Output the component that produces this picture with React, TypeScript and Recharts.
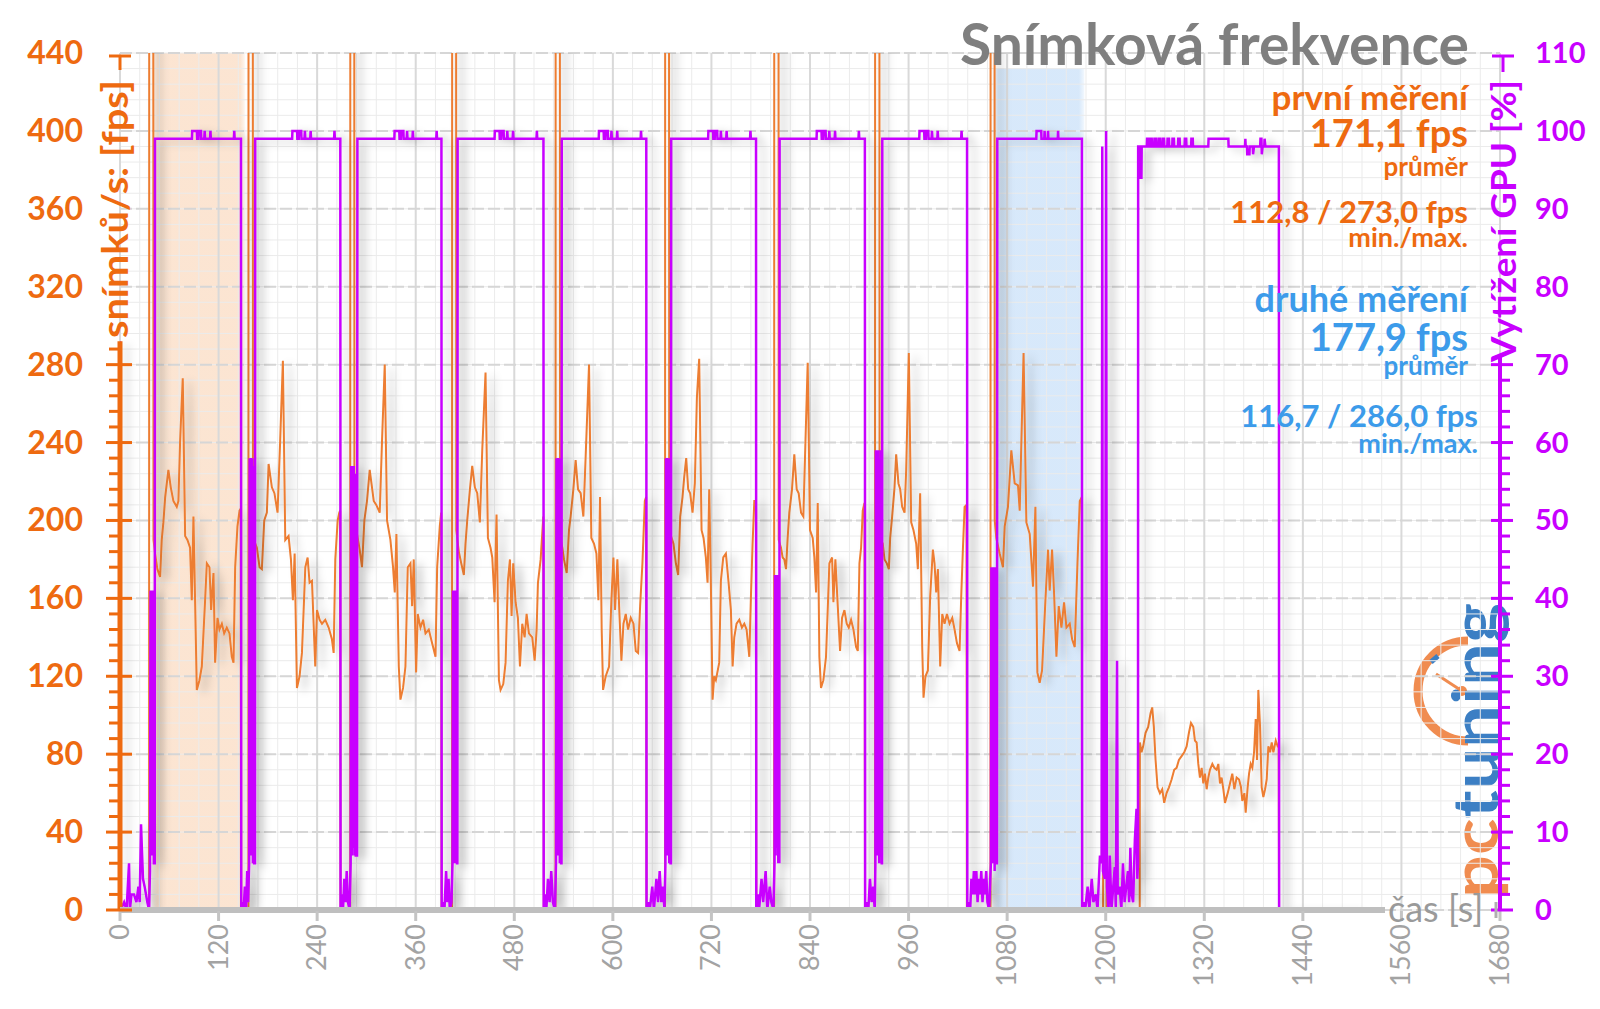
import React from 'react';
import { LineChart, Line, XAxis, YAxis, ReferenceLine, ReferenceArea } from 'recharts';

// ---- axes ----
const timeTicks = [0, 120, 240, 360, 480, 600, 720, 840, 960, 1080, 1200, 1320, 1440, 1560, 1680];
const fpsTicks = [0, 40, 80, 120, 160, 200, 240, 280, 320, 360, 400, 440];
const gpuTicks = [0, 10, 20, 30, 40, 50, 60, 70, 80, 90, 100, 110];

// highlighted runs [s]
const firstRunBand = [39, 152];
const secondRunBand = [1063, 1174];

// summary texts
const titleText = 'Snímková frekvence';
const firstLabel = 'první měření';
const firstAvg = '171,1 fps';
const firstMinMax = '112,8 / 273,0 fps';
const secondLabel = 'druhé měření';
const secondAvg = '177,9 fps';
const secondMinMax = '116,7 / 286,0 fps';

// ---- FPS [time s, fps] ----  (600 = off the scale, loading screens)
const fpsIdle = [[0, 0], [35.4, 0]];
const fpsRun1 = [[35.6, 600], [40.4, 600], [40.8, 190], [42.7, 183], [45.5, 175], [48.8, 171], [50.8, 190], [52.8, 199], [55, 212], [58.9, 226], [61.8, 217], [65, 210], [69.1, 207], [71.1, 210], [73.2, 241], [76.4, 273], [79.3, 192], [82.1, 190], [85.3, 186], [87.4, 159], [89.4, 202], [91.4, 159], [93.5, 113], [96.7, 118], [99.6, 125], [103.6, 159], [105.7, 178], [108.9, 176], [110.9, 154], [113.8, 173], [115.8, 127], [118.7, 150], [121.1, 144], [124, 147], [126.8, 142], [130, 145], [133.3, 142], [136.1, 130], [138.2, 127], [140.2, 176], [143, 197], [145.5, 205], [147, 206], [147.5, 0], [156.3, 0]];
const fpsRun2 = [[156.5, 600], [161.6, 600], [161.9, 192], [164, 189], [166.6, 186], [169.9, 176], [172.7, 175], [175.6, 200], [178.8, 204], [180.9, 229], [184.9, 217], [188, 214], [191.8, 204], [195, 241], [198.3, 282], [201.2, 190], [205.2, 192], [208.1, 180], [210.5, 159], [212.6, 183], [215.4, 114], [218.6, 120], [221.5, 132], [225.6, 176], [228.4, 181], [230.8, 168], [233.7, 169], [237.7, 125], [239.8, 154], [243, 149], [245.9, 147], [249.9, 149], [254, 145], [258, 139], [260.1, 132], [262.1, 180], [265, 200], [267, 204], [268, 205], [268.5, 0], [280.2, 0]];
const fpsRun3 = [[280.4, 600], [285.1, 600], [285.4, 190], [288.6, 193], [291.8, 185], [294.6, 176], [297.5, 200], [300.7, 210], [304, 226], [308.9, 210], [312, 208], [316.2, 204], [319, 241], [322.3, 280], [325.1, 200], [329.2, 190], [332.4, 176], [334.5, 163], [336.5, 193], [339.4, 125], [341.4, 108], [344.6, 114], [347.5, 125], [350.3, 176], [353.6, 178], [355.6, 156], [357.6, 180], [360.5, 122], [362.5, 152], [365.8, 145], [369, 149], [371.9, 142], [375.9, 144], [380, 137], [384.1, 130], [386.1, 176], [389.3, 197], [391, 204], [391.5, 0], [404.2, 0]];
const fpsRun4 = [[404.4, 600], [409.1, 600], [409.4, 195], [412.5, 184], [415.4, 178], [418.6, 172], [420.6, 188], [422.7, 200], [426, 216], [428.8, 228], [432, 217], [434.9, 214], [438.1, 199], [441, 236], [445, 276], [447.9, 191], [451.1, 186], [453.2, 181], [456, 158], [458.4, 203], [461.3, 118], [463.3, 113], [466.6, 116], [469.4, 127], [472.2, 169], [474.7, 180], [476.7, 151], [478.7, 178], [481.6, 158], [484.4, 150], [486.9, 125], [489.7, 147], [492.6, 140], [495, 152], [497.8, 142], [501.9, 140], [504.8, 128], [507.2, 144], [508.8, 168], [512.1, 180], [515.3, 202], [516, 0], [530.2, 0]];
const fpsRun5 = [[530.4, 600], [535.4, 600], [535.7, 192], [538.5, 186], [540.5, 180], [543.8, 173], [546.6, 195], [548.6, 202], [551.9, 216], [554.7, 231], [557.6, 216], [560.8, 214], [564.1, 202], [566.9, 233], [571, 280], [573.8, 191], [577.1, 188], [580, 183], [582.4, 159], [584.4, 212], [586.4, 144], [588.1, 113], [591.3, 120], [595.4, 125], [598.2, 159], [600.7, 181], [602.7, 154], [605.5, 180], [608, 152], [610.4, 128], [612.9, 147], [615.7, 152], [618.5, 144], [621.8, 150], [625.1, 147], [627.9, 133], [630.7, 132], [633.2, 156], [636, 178], [638.9, 210], [640.5, 212], [641, 0], [663.5, 0]];
const fpsRun6 = [[663.7, 600], [668.3, 600], [668.6, 195], [673.8, 188], [676.7, 178], [679.5, 172], [682, 202], [684.8, 212], [686.8, 222], [689.3, 232], [691.7, 216], [694.1, 214], [697, 204], [699.8, 219], [702.3, 263], [705.1, 283], [708, 195], [710.4, 191], [713.2, 181], [715.3, 168], [717.3, 216], [719.3, 168], [721.4, 108], [723.4, 120], [725.4, 118], [729.5, 127], [731.5, 169], [734.4, 181], [737.6, 183], [740.9, 168], [743.7, 154], [745.8, 125], [747.8, 140], [750.6, 147], [753.9, 149], [757.1, 145], [760, 147], [762.8, 144], [766.1, 130], [768.1, 161], [770.1, 188], [772.2, 210], [774.2, 210], [774.7, 0], [796.3, 0]];
const fpsRun7 = [[796.5, 600], [801.6, 600], [801.9, 190], [804.7, 186], [806.7, 181], [808.7, 180], [810.8, 175], [812.8, 191], [814.8, 204], [818.1, 216], [820.9, 234], [823.8, 216], [826.2, 214], [829.1, 204], [831.9, 202], [834.3, 238], [837.2, 281], [840, 195], [843.3, 191], [845.3, 181], [847.4, 163], [849.4, 209], [851.4, 130], [853.4, 114], [856.3, 118], [859.5, 130], [863.6, 178], [866.9, 181], [868.5, 158], [870.9, 180], [873.8, 156], [876.6, 133], [879, 150], [881.9, 154], [884.7, 147], [887.2, 145], [890, 149], [892.9, 144], [896.1, 135], [898.2, 133], [900.2, 178], [902.2, 186], [904.2, 205], [906.3, 209], [907, 0], [919.1, 0]];
const fpsRun8 = [[919.3, 600], [924.4, 600], [924.7, 192], [928.6, 188], [930.7, 180], [933.5, 178], [936, 175], [937.6, 191], [940, 202], [942.9, 217], [944.9, 234], [947.7, 219], [949.8, 216], [952.2, 207], [955.1, 204], [957.1, 226], [960.3, 286], [963.2, 199], [966, 195], [969.3, 188], [971.3, 175], [974.1, 214], [976.6, 135], [978.2, 109], [980.6, 120], [983.5, 123], [986.3, 161], [989.6, 185], [991.6, 178], [993.6, 163], [995.7, 175], [998.5, 125], [1001, 152], [1003.8, 147], [1006.7, 152], [1009.9, 147], [1013.2, 150], [1016, 144], [1018.9, 137], [1022.1, 133], [1024.1, 161], [1026.2, 186], [1028.2, 207], [1030.5, 208], [1031, 0], [1059.7, 0]];
const fpsRun9 = [[1059.9, 600], [1064.6, 600], [1064.9, 200], [1066.8, 191], [1070.9, 183], [1074.9, 176], [1077, 197], [1081, 207], [1085.1, 236], [1089.2, 219], [1093.2, 218], [1095.3, 205], [1097.3, 240], [1100, 286], [1103.4, 199], [1107.5, 193], [1111.5, 166], [1114.4, 207], [1116.8, 122], [1119.6, 116.7], [1122.5, 123], [1126.6, 159], [1129.8, 185], [1131.8, 164], [1134.7, 185], [1137.1, 163], [1140, 130], [1142.8, 156], [1146.1, 145], [1149.3, 158], [1152.2, 145], [1156.2, 147], [1159.1, 139], [1162.3, 135], [1165.6, 178], [1168.4, 210], [1170.8, 212], [1171.3, 0]];
const fpsFinal = [[1196.8, 0], [1197, 87], [1201, 87], [1201.2, 0], [1241.4, 0], [1241.6, 86], [1243.6, 81], [1245.6, 84], [1248.5, 91], [1251.7, 94], [1254.6, 101], [1256.6, 104], [1258.6, 94], [1260.7, 77], [1263.1, 63], [1266, 60], [1268.8, 62], [1271.2, 55], [1274.1, 60], [1277, 63], [1280.2, 67], [1283.4, 72], [1286.3, 73], [1289.1, 77], [1292.4, 79], [1295.6, 81], [1298.5, 84], [1301.3, 91], [1303.8, 96], [1306.6, 94], [1308.6, 87], [1310.7, 86], [1312.7, 75], [1314.7, 68], [1316.8, 73], [1318.8, 65], [1320.8, 70], [1322.9, 62], [1324.9, 68], [1326.9, 72], [1329.8, 75], [1332.2, 73], [1335, 72], [1337.1, 75], [1339.1, 65], [1341.1, 68], [1343.2, 62], [1345.2, 55], [1348.5, 60], [1351.3, 65], [1354.1, 70], [1356.6, 62], [1359.4, 68], [1362.3, 67], [1364.7, 63], [1366.3, 56], [1368.8, 60], [1370.4, 50], [1372.8, 63], [1374.5, 70], [1376.5, 75], [1378.5, 73], [1380.6, 81], [1382.6, 98], [1384.2, 77], [1385.8, 113], [1387.9, 94], [1389.9, 63], [1391.9, 58], [1394, 62], [1396, 67], [1398, 84], [1400.1, 81], [1402.1, 86], [1404.1, 81], [1407, 87], [1409.4, 84], [1410.6, 84], [1411, 0]];

// ---- GPU load [time s, %] ----
const gpuIdle = [[0, 73], [0.8, 0], [5, 1], [8, 0], [11, 6], [12, 0], [14, 2], [17, 2], [20, 1], [22.4, 3], [24, 1], [25.6, 11], [26.6, 8], [28, 4], [30, 3], [33.3, 1], [35.4, 0], [36.5, 5], [37.2, 41], [38, 8], [38.8, 41], [39.6, 7], [40.4, 41], [41.2, 6], [42.3, 6]];
const gpuRun1 = [[42.6, 99], [87.6, 99], [87.9, 100], [93.6, 100], [93.9, 99], [95.6, 99], [95.9, 100], [98.6, 100], [98.9, 99], [102.6, 99], [103.1, 100], [103.6, 99], [109.6, 99], [110.1, 100], [110.6, 99], [138.6, 99], [139.1, 100], [139.6, 99], [147.3, 99], [147.6, 0], [149, 1], [150.5, 0], [152, 3], [153.5, 0], [154.8, 5], [156, 1], [157.2, 6], [157.8, 58], [158.6, 8], [159.4, 58], [160.2, 7], [161, 58], [161.8, 6], [162.6, 57], [163.3, 6], [164.3, 6]];
const gpuRun2 = [[164.6, 99], [209.6, 99], [209.9, 100], [215.6, 100], [215.9, 99], [217.6, 99], [217.9, 100], [220.6, 100], [220.9, 99], [224.6, 99], [225.1, 100], [225.6, 99], [231.6, 99], [232.1, 100], [232.6, 99], [260.6, 99], [261.1, 100], [261.6, 99], [268.2, 99], [268.5, 0], [270, 2], [271.5, 0], [273, 4], [274.5, 1], [276, 5], [277.5, 1], [279.5, 0], [280.8, 6], [281.4, 57], [282.2, 7], [283, 57], [283.8, 8], [284.6, 57], [285.4, 7], [286.2, 56], [287, 7], [288.6, 7]];
const gpuRun3 = [[289, 99], [334, 99], [334.3, 100], [340, 100], [340.3, 99], [342, 99], [342.3, 100], [345, 100], [345.3, 99], [349, 99], [349.5, 100], [350, 99], [356, 99], [356.5, 100], [357, 99], [385, 99], [385.5, 100], [386, 99], [391.3, 99], [391.6, 0], [393, 1], [395, 0], [397, 5], [398.5, 1], [400, 4], [401.5, 0], [403.5, 1], [404.8, 6], [405.4, 41], [406.2, 7], [407, 41], [407.8, 6], [408.6, 41], [409.4, 7], [410.2, 6], [410.7, 6]];
const gpuRun4 = [[411, 99], [456, 99], [456.3, 100], [462, 100], [462.3, 99], [464, 99], [464.3, 100], [467, 100], [467.3, 99], [471, 99], [471.5, 100], [472, 99], [478, 99], [478.5, 100], [479, 99], [507, 99], [507.5, 100], [508, 99], [515.5, 99], [515.8, 0], [517.5, 2], [519, 0], [521, 4], [523, 1], [525, 5], [527, 1], [529.5, 0], [530.8, 6], [531.4, 58], [532.2, 8], [533, 58], [533.8, 7], [534.6, 58], [535.4, 6], [536.2, 57], [537, 6], [537.5, 6]];
const gpuRun5 = [[537.8, 99], [582.8, 99], [583.1, 100], [588.8, 100], [589.1, 99], [590.8, 99], [591.1, 100], [593.8, 100], [594.1, 99], [597.8, 99], [598.3, 100], [598.8, 99], [604.8, 99], [605.3, 100], [605.8, 99], [633.8, 99], [634.3, 100], [634.8, 99], [640.7, 99], [641, 0], [643, 1], [645, 0], [648, 3], [650, 0], [653, 4], [655, 1], [657, 5], [659, 1], [661, 3], [662.8, 0], [664, 6], [664.6, 58], [665.4, 8], [666.2, 58], [667, 7], [667.8, 58], [668.6, 6], [669.4, 57], [670.2, 6], [670.7, 6]];
const gpuRun6 = [[671, 99], [716, 99], [716.3, 100], [722, 100], [722.3, 99], [724, 99], [724.3, 100], [727, 100], [727.3, 99], [731, 99], [731.5, 100], [732, 99], [738, 99], [738.5, 100], [739, 99], [767, 99], [767.5, 100], [768, 99], [774.3, 99], [774.6, 0], [776.5, 2], [778, 0], [781, 4], [783, 1], [786, 5], [788, 0], [791, 3], [793, 1], [795.5, 0], [796.8, 6], [797.4, 43], [798.2, 7], [799, 43], [799.8, 8], [800.6, 43], [801.4, 6], [802.2, 42], [802.7, 6]];
const gpuRun7 = [[803, 99], [848, 99], [848.3, 100], [854, 100], [854.3, 99], [856, 99], [856.3, 100], [859, 100], [859.3, 99], [863, 99], [863.5, 100], [864, 99], [870, 99], [870.5, 100], [871, 99], [899, 99], [899.5, 100], [900, 99], [906.8, 99], [907.1, 0], [909, 1], [911, 0], [913, 4], [915, 1], [917, 3], [918.8, 0], [919.6, 6], [920.2, 59], [921, 8], [921.8, 59], [922.6, 7], [923.4, 59], [924.2, 6], [925, 58], [925.8, 7], [926.6, 59], [927.3, 6], [927.7, 6]];
const gpuRun8 = [[928, 99], [973, 99], [973.3, 100], [979, 100], [979.3, 99], [981, 99], [981.3, 100], [984, 100], [984.3, 99], [988, 99], [988.5, 100], [989, 99], [995, 99], [995.5, 100], [996, 99], [1024, 99], [1024.5, 100], [1025, 99], [1031.2, 99], [1031.5, 0], [1033.5, 1], [1035, 0], [1036.5, 4], [1038, 2], [1039.5, 5], [1041, 2], [1042.5, 5], [1044, 1], [1045.5, 4], [1047, 2], [1048.5, 5], [1050, 1], [1051.5, 4], [1053, 2], [1054.5, 5], [1056, 1], [1058, 0], [1060.2, 6], [1060.8, 44], [1061.6, 7], [1062.4, 44], [1063.2, 6], [1064, 44], [1064.8, 5], [1065.6, 44], [1066.4, 6], [1067.6, 6]];
const gpuRun9 = [[1068, 99], [1115.5, 99], [1115.8, 100], [1121.5, 100], [1121.8, 99], [1125.2, 99], [1125.6, 100], [1126, 99], [1129.4, 99], [1129.8, 100], [1130.2, 99], [1141.6, 99], [1142, 100], [1142.4, 99], [1171, 99], [1171.3, 0], [1173, 1], [1175, 0], [1178, 3], [1180, 0], [1183, 4], [1185, 1], [1188, 2], [1190, 0], [1193, 7], [1195, 6], [1195.8, 98], [1196.6, 5], [1199, 4], [1200.5, 100], [1201.5, 3], [1203.5, 0], [1205, 7], [1207, 0], [1211, 5.5], [1212.3, 0], [1213.8, 32], [1214.6, 2], [1217, 3], [1219, 0], [1221, 6], [1223, 1], [1225, 3], [1227, 5], [1228.5, 1], [1230, 8], [1231.5, 2], [1233.4, 1], [1235.5, 9], [1237.5, 13], [1238.5, 4], [1239.3, 6]];
const gpuFinal = [[1239.5, 98], [1242, 98], [1242.3, 94], [1243.5, 94], [1243.8, 98], [1250, 98], [1250.3, 99], [1251.5, 99], [1251.8, 98], [1254, 98], [1254.3, 99], [1256, 99], [1256.3, 98], [1259, 98], [1259.3, 99], [1261, 99], [1261.3, 98], [1264, 98], [1264.3, 99], [1266, 99], [1266.3, 98], [1269, 98], [1269.3, 99], [1271, 99], [1271.3, 98], [1275, 98], [1275.3, 99], [1277, 99], [1277.3, 98], [1281, 98], [1281.3, 99], [1283, 99], [1283.3, 98], [1288, 98], [1288.3, 99], [1290, 99], [1290.3, 98], [1296, 98], [1296.3, 99], [1298, 99], [1298.3, 98], [1304, 98], [1304.3, 99], [1306, 99], [1306.3, 98], [1324.9, 98], [1325.2, 99], [1349.3, 99], [1349.6, 98], [1369.6, 98], [1370, 99], [1370.4, 98], [1372, 98], [1372.3, 97], [1375, 97], [1375.3, 98], [1379, 98], [1379.4, 97], [1380.5, 98], [1388, 98], [1388.4, 99], [1389.6, 99], [1390, 97], [1391, 98], [1393, 98], [1393.4, 99], [1394.4, 98], [1410.8, 98], [1411.1, 0], [1503, 0]];

const fpsData = [fpsIdle, fpsRun1, fpsRun2, fpsRun3, fpsRun4, fpsRun5, fpsRun6, fpsRun7, fpsRun8, fpsRun9, fpsFinal]
  .flat()
  .map(([t, fps]) => ({ t, fps }));
const gpuData = [gpuIdle, gpuRun1, gpuRun2, gpuRun3, gpuRun4, gpuRun5, gpuRun6, gpuRun7, gpuRun8, gpuRun9, gpuFinal]
  .flat()
  .map(([t, gpu]) => ({ t, gpu }));

// minor grid/tick steps
const fpsAllTicks = Array.from({ length: 56 }, (_, i) => i * 8);
const gpuAllTicks = Array.from({ length: 56 }, (_, i) => i * 2);
const timeMinor = Array.from({ length: 71 }, (_, i) => i * 24);

// axis lines stop where the rotated axis titles start
const fpsAxisTop = 292;
const gpuAxisTop = 71;
const timeAxisEnd = 1540;

const ORANGE = '#EE6A10';
const ORANGE_LINE = '#ED7D31';
const PURPLE = '#C800FF';
const BLUE = '#3C9BEA';
const GRAY_TEXT = '#7F7F7F';
const FONT = 'Lato, "Open Sans", sans-serif';

const FpsTick = (props: any) => {
  const { y, payload } = props;
  const v = payload.value;
  const major = v % 40 === 0;
  return (
    <g>
      {v <= fpsAxisTop && (
        <line x1={major ? 106 : 109} x2={major ? 132 : 118} y1={y} y2={y} stroke={ORANGE} strokeWidth={3} />
      )}
      {major && (
        <text x={83} y={y} dy={11} textAnchor="end" fill={ORANGE} fontSize={32} fontWeight={700} fontFamily={FONT}>
          {v}
        </text>
      )}
    </g>
  );
};

const GpuTick = (props: any) => {
  const { y, payload } = props;
  const v = payload.value;
  const major = v % 10 === 0;
  return (
    <g>
      {v <= gpuAxisTop && (
        <line x1={major ? 1491 : 1501} x2={major ? 1513 : 1510} y1={y} y2={y} stroke={PURPLE} strokeWidth={3} />
      )}
      {major && (
        <text x={1535} y={y} dy={10} textAnchor="start" fill={PURPLE} fontSize={29} fontWeight={700} fontFamily={FONT}>
          {v}
        </text>
      )}
    </g>
  );
};

const TimeTick = (props: any) => {
  const { x, payload } = props;
  return (
    <g>
      <line x1={x} x2={x} y1={911} y2={921} stroke="#c4c4c4" strokeWidth={3} />
      <text
        transform={`translate(${x},924) rotate(-90)`}
        dy={9}
        textAnchor="end"
        fill="#a3a3a3"
        fontSize={27}
        fontFamily={FONT}
      >
        {payload.value}
      </text>
    </g>
  );
};

const Logo = () => (
  <svg width={1600} height={1009} style={{ position: 'absolute', left: 0, top: 0 }}>
    <path d="M 1468 641 A 50 50 0 1 0 1468 741" fill="none" stroke="#F08C50" strokeWidth={9} />
    <line x1={1462} y1={691} x2={1436} y2={674} stroke="#F08C50" strokeWidth={3} />
    <circle cx={1462} cy={691} r={5} fill="#F08C50" />
    <line x1={1431} y1={662} x2={1438} y2={656} stroke="#3C7FC4" strokeWidth={5} />
    <text
      transform="translate(1498,898) rotate(-90)"
      fontSize={64}
      fontWeight={700}
      fontFamily={FONT}
      textLength={295}
      lengthAdjust="spacingAndGlyphs"
    >
      <tspan fill="#F08C50">pc</tspan>
      <tspan fill="#3C7FC4">tuning</tspan>
    </text>
  </svg>
);

const Overlay = () => (
  <svg width={1600} height={1009} style={{ position: 'absolute', left: 0, top: 0, pointerEvents: 'none' }}>
    <g fontFamily={FONT} textAnchor="end" fontWeight={700}>
      <text x={1469} y={65} fontSize={57} fill={GRAY_TEXT}>{titleText}</text>
      <text x={1468} y={110} fontSize={35} fill={ORANGE}>{firstLabel}</text>
      <text x={1468} y={147} fontSize={38} fill={ORANGE}>{firstAvg}</text>
      <text x={1468} y={176} fontSize={26} fill={ORANGE}>průměr</text>
      <text x={1468} y={223} fontSize={31} fill={ORANGE}>{firstMinMax}</text>
      <text x={1468} y={247} fontSize={27} fill={ORANGE}>min./max.</text>
      <text x={1468} y={312} fontSize={36} fill={BLUE}>{secondLabel}</text>
      <text x={1468} y={351} fontSize={38} fill={BLUE}>{secondAvg}</text>
      <text x={1468} y={375} fontSize={26} fill={BLUE}>průměr</text>
      <text x={1478} y={427} fontSize={31} fill={BLUE}>{secondMinMax}</text>
      <text x={1478} y={453} fontSize={27} fill={BLUE}>min./max.</text>
    </g>
    {/* axis titles */}
    <text
      transform="translate(128,338) rotate(-90)"
      fontSize={37}
      fontWeight={700}
      fill={ORANGE}
      fontFamily={FONT}
      textLength={258}
      lengthAdjust="spacingAndGlyphs"
    >
      snímků/s: [fps]
    </text>
    <line x1={109} x2={131} y1={56} y2={56} stroke={ORANGE} strokeWidth={3} />
    <line x1={120} x2={120} y1={56} y2={70} stroke={ORANGE} strokeWidth={3} />
    <text
      transform="translate(1516,362) rotate(-90)"
      fontSize={35}
      fontWeight={700}
      fill={PURPLE}
      fontFamily={FONT}
      textLength={282}
      lengthAdjust="spacingAndGlyphs"
    >
      Vytížení GPU [%]
    </text>
    <line x1={1492} x2={1514} y1={56} y2={56} stroke={PURPLE} strokeWidth={3} />
    <line x1={1503} x2={1503} y1={56} y2={72} stroke={PURPLE} strokeWidth={3} />
    <text x={1388} y={922} fontSize={36} fill="#9a9a9a" fontFamily={FONT}>čas [s]</text>
    <line x1={1496} x2={1496} y1={902} y2={918} stroke="#b0b0b0" strokeWidth={3} />
  </svg>
);

export default function App() {
  return (
    <div style={{ position: 'absolute', left: 0, top: 0, width: 1600, height: 1009, background: '#fff', overflow: 'hidden' }}>
      <style>{`.shadowed .recharts-line-curve { filter: url(#lineShadow); }`}</style>
      <Logo />
      <div style={{ position: 'absolute', left: 0, top: 0 }}>
        <LineChart width={1600} height={1009} margin={{ top: 53, right: 0, bottom: 0, left: 0 }}>
          <defs>
            <linearGradient id="bandOrange" x1="0" x2="1" y1="0" y2="0">
              <stop offset="0" stopColor="#FBE0CA" stopOpacity={0.2} />
              <stop offset="0.06" stopColor="#FBE0CA" stopOpacity={0.85} />
              <stop offset="0.95" stopColor="#FBE0CA" stopOpacity={0.85} />
              <stop offset="1" stopColor="#FBE0CA" stopOpacity={0.3} />
            </linearGradient>
            <linearGradient id="bandBlue" x1="0" x2="1" y1="0" y2="0">
              <stop offset="0" stopColor="#D3E6FA" stopOpacity={0.3} />
              <stop offset="0.06" stopColor="#D3E6FA" stopOpacity={0.9} />
              <stop offset="0.94" stopColor="#D3E6FA" stopOpacity={0.9} />
              <stop offset="1" stopColor="#D3E6FA" stopOpacity={0.3} />
            </linearGradient>
            <filter id="lineShadow" x="-2%" y="-2%" width="104%" height="104%">
              <feDropShadow dx="7" dy="3" stdDeviation="4.5" floodColor="#000" floodOpacity="0.22" />
            </filter>
          </defs>
          <XAxis
            dataKey="t"
            type="number"
            domain={[0, 1680]}
            ticks={timeTicks}
            interval={0}
            height={99}
            axisLine={false}
            tickLine={false}
            tick={TimeTick}
            allowDataOverflow
          />
          <YAxis
            width={120}
            domain={[0, 440]}
            ticks={fpsAllTicks}
            interval={0}
            axisLine={false}
            tickLine={false}
            tick={FpsTick}
            allowDataOverflow
          />
          <YAxis
            yAxisId="gpu"
            orientation="right"
            width={100}
            domain={[0, 110]}
            ticks={gpuAllTicks}
            interval={0}
            axisLine={false}
            tickLine={false}
            tick={GpuTick}
            allowDataOverflow
          />
          <ReferenceArea x1={firstRunBand[0]} x2={firstRunBand[1]} fill="url(#bandOrange)" fillOpacity={1} stroke="none" />
          <ReferenceArea x1={secondRunBand[0]} x2={secondRunBand[1]} y1={0} y2={432} fill="url(#bandBlue)" fillOpacity={1} stroke="none" />
          {timeMinor.map((v) => (
            <ReferenceLine key={'vm' + v} x={v} stroke="#ebebeb" strokeWidth={1} />
          ))}
          {fpsAllTicks.map((v) => (
            <ReferenceLine key={'hm' + v} y={v} stroke="#ebebeb" strokeWidth={1} />
          ))}
          {timeTicks.map((v) => (
            <ReferenceLine key={'vM' + v} x={v} stroke="#d9d9d9" strokeWidth={2} />
          ))}
          {fpsTicks.map((v) => (
            <ReferenceLine key={'hM' + v} y={v} stroke="#d6d6d6" strokeWidth={2} strokeDasharray="12 4" />
          ))}
          <Line
            data={fpsData}
            dataKey="fps"
            type="linear"
            stroke={ORANGE_LINE}
            strokeWidth={2}
            dot={false}
            activeDot={false}
            isAnimationActive={false}
            className="shadowed"
          />
          <Line
            data={gpuData}
            yAxisId="gpu"
            dataKey="gpu"
            type="linear"
            stroke={PURPLE}
            strokeWidth={2.5}
            dot={false}
            activeDot={false}
            isAnimationActive={false}
            className="shadowed"
          />
          <ReferenceLine segment={[{ x: 0, y: 0 }, { x: 0, y: fpsAxisTop }]} stroke={ORANGE} strokeWidth={5} />
          <ReferenceLine yAxisId="gpu" segment={[{ x: 1680, y: 0 }, { x: 1680, y: gpuAxisTop }]} stroke={PURPLE} strokeWidth={4} />
          <ReferenceLine segment={[{ x: 0, y: 0 }, { x: timeAxisEnd, y: 0 }]} stroke="#bfbfbf" strokeWidth={6} />
        </LineChart>
      </div>
      <Overlay />
    </div>
  );
}
